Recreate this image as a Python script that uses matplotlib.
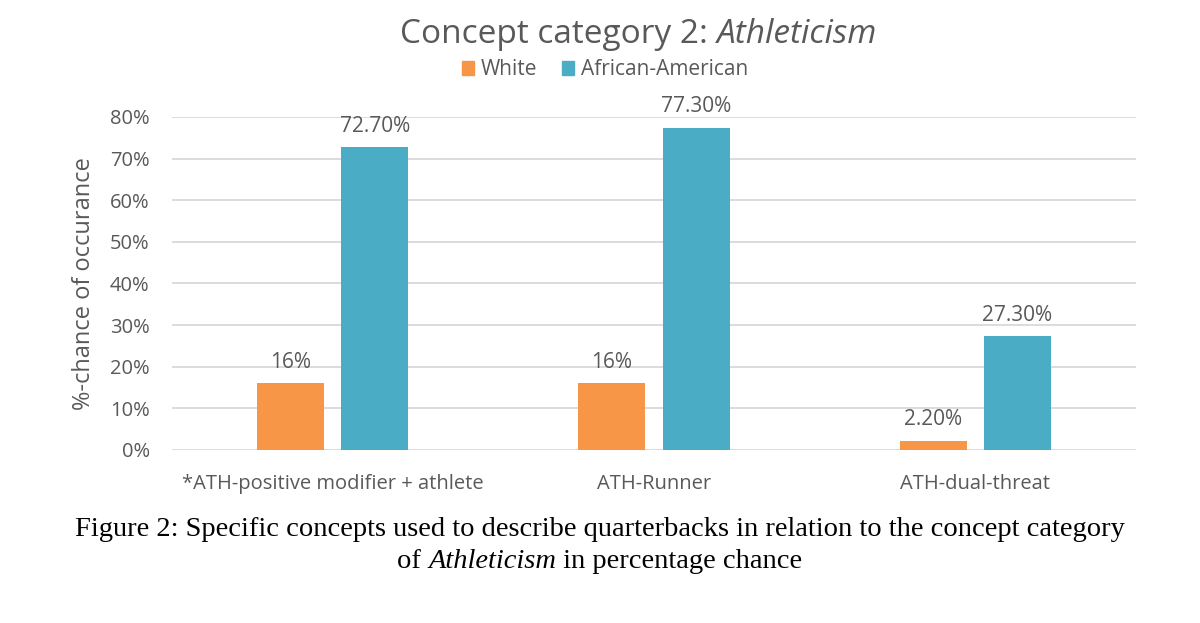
import matplotlib
matplotlib.use("Agg")
import matplotlib.pyplot as plt
import numpy as np
from matplotlib.patches import Patch

categories = ["*ATH-positive modifier + athlete", "ATH-Runner", "ATH-dual-threat"]
white = [16.0, 16.0, 2.2]
african_american = [72.7, 77.3, 27.3]
white_labels = ["16%", "16%", "2.20%"]
aa_labels = ["72.70%", "77.30%", "27.30%"]
yticks = [0, 10, 20, 30, 40, 50, 60, 70, 80]

plt.rcParams['font.family'] = ['Open Sans', 'DejaVu Sans']
gray = '#595959'
c_white = '#F79646'
c_aa = '#4BACC6'

fig = plt.figure(figsize=(12, 6.23), dpi=100)
ax = fig.add_axes([0.1433, 0.2777, 0.8034, 0.5345])

x = np.arange(len(categories))
w = 0.209
gap = 0.053
off = (w + gap) / 2
ax.bar(x - off, white, w, color=c_white, zorder=3)
ax.bar(x + off, african_american, w, color=c_aa, zorder=3)

for xi, v, lab in zip(x, white, white_labels):
    ax.text(xi - off, v + 2.6, lab, ha='center', va='bottom', fontsize=15, color=gray)
for xi, v, lab in zip(x, african_american, aa_labels):
    ax.text(xi + off, v + 2.6, lab, ha='center', va='bottom', fontsize=15, color=gray)

ax.set_xlim(-0.5, 2.5)
ax.set_ylim(0, 80)
ax.set_yticks(yticks)
ax.set_yticklabels([f"{t}%" for t in yticks])
ax.set_xticks(x)
ax.set_xticklabels(categories)
ax.tick_params(axis='both', length=0, labelsize=14.5, colors=gray)
ax.tick_params(axis='y', pad=16)
ax.tick_params(axis='x', pad=17)
ax.yaxis.grid(True, color='#D9D9D9', linewidth=1.3, zorder=0)
for s in ax.spines.values():
    s.set_visible(False)
ax.set_ylabel("%-chance of occurance", fontsize=17, color=gray, labelpad=10)

fig.canvas.draw()
r = fig.canvas.get_renderer()

def place_parts(y, parts, fs, family, color, cx=0.5):
    texts = []
    for s, style in parts:
        t = fig.text(0, y, s, ha='left', va='center', fontsize=fs, family=family, color=color, style=style)
        texts.append(t)
    widths = [t.get_window_extent(r).width / fig.bbox.width for t in texts]
    x0 = cx - sum(widths) / 2
    for t, wd in zip(texts, widths):
        t.set_x(x0)
        x0 += wd

place_parts(0.945, [("Concept category 2: ", 'normal'), ("Athleticism", 'italic')],
            24, ['Open Sans', 'DejaVu Sans'], gray, cx=0.532)

handles = [Patch(color=c_white, label='White'), Patch(color=c_aa, label='African-American')]
leg = fig.legend(handles=handles, loc='center', bbox_to_anchor=(0.504, 0.888), ncol=2,
                 frameon=False, fontsize=15, handlelength=0.6, handleheight=0.6,
                 handletextpad=0.3, columnspacing=1.2)
for t in leg.get_texts():
    t.set_color(gray)

fig.text(0.5, 0.150, "Figure 2: Specific concepts used to describe quarterbacks in relation to the concept category",
         ha='center', va='center', fontsize=20.5, family=['Liberation Serif'], color='black')
place_parts(0.098, [("of ", 'normal'), ("Athleticism", 'italic'), (" in percentage chance", 'normal')],
            20.5, ['Liberation Serif'], 'black')

fig.savefig("out.png", dpi=100)
